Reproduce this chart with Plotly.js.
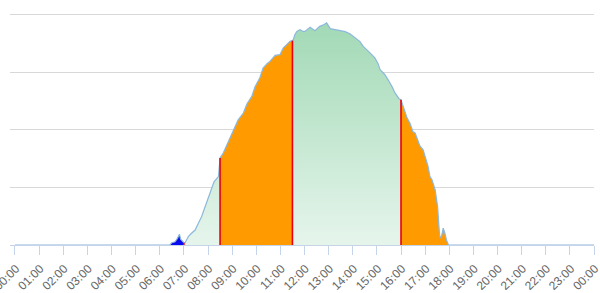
<!DOCTYPE html>
<html>
<head>
<meta charset="utf-8">
<script src="https://cdn.plot.ly/plotly-3.0.1.min.js"></script>
<style>html,body{margin:0;padding:0;background:#fff;}#chart{width:600px;height:293px;}</style>
</head>
<body>
<div id="chart"></div>
<script>
// Time of reading (HH:MM) and power value
const times = ["00:00","06:25","06:30","06:38","06:44","06:49","06:52","06:56","07:00",
  "07:03","07:11","07:19","07:28","07:36","07:44","07:53","08:05","08:15","08:26","08:28","08:30",
  "08:38","08:50","09:03","09:15","09:28","09:37","09:49","09:57","10:09","10:17","10:27","10:34","10:47","10:59","11:07","11:16","11:24","11:30",
  "11:32","11:36","11:41","11:49","11:56","12:01","12:14","12:26","12:38","12:49","12:55","13:04","13:16","13:28","13:41","13:53","14:10","14:18","14:26","14:35","14:43","14:55","15:03","15:08","15:20","15:28","15:33","15:39","15:45","15:55","16:00",
  "16:10","16:15","16:22","16:30","16:35","16:47","16:55","17:00","17:07","17:12","17:17","17:25","17:31","17:35","17:37","17:41","17:45","17:49","17:53","17:58","24:00"];
const power = [0,0,10,14,29,47,25,19,10,
  10,36,51,65,94,123,167,230,274,297,335,378,
  399,448,500,543,573,613,645,687,726,768,787,797,823,826,855,870,884,887,
  891,913,927,935,927,927,945,930,949,957,964,939,935,933,926,917,891,883,862,848,834,812,787,761,739,717,703,683,660,635,630,
  573,552,529,491,486,430,413,384,343,297,283,239,167,65,30,39,73,52,22,0,0];

// Tariff periods
const periodStarts = ["00:00","07:00","08:30","11:30","16:00","21:00","23:00"];
const periodTypes  = ["valley","flat","peak","flat","peak","flat","valley"];

const tickLabels = ["00:00","01:00","02:00","03:00","04:00","05:00","06:00","07:00","08:00","09:00","10:00","11:00","12:00",
  "13:00","14:00","15:00","16:00","17:00","18:00","19:00","20:00","21:00","22:00","23:00","00:00"];

const toH = s => { const p = s.split(":"); return +p[0] + (+p[1]) / 60; };
const hrs = times.map(toH);
function interp(h) {
  for (let i = 0; i < hrs.length - 1; i++) {
    if (h >= hrs[i] && h <= hrs[i + 1]) {
      const t = hrs[i + 1] === hrs[i] ? 0 : (h - hrs[i]) / (hrs[i + 1] - hrs[i]);
      return power[i] + t * (power[i + 1] - power[i]);
    }
  }
  return 0;
}

const traces = [];
const starts = periodStarts.map(toH);
const ends = starts.slice(1).concat([24]);
starts.forEach((s, k) => {
  const e = ends[k];
  const xs = [s], ys = [interp(s)];
  hrs.forEach((h, i) => { if (h > s && h < e) { xs.push(h); ys.push(power[i]); } });
  xs.push(e); ys.push(interp(e));
  const type = periodTypes[k];
  const tr = { x: xs, y: ys, type: "scatter", mode: "lines", line: { width: 0 }, fill: "tozeroy", hoverinfo: "skip", showlegend: false };
  if (type === "valley") tr.fillcolor = "#0a0af0";
  else if (type === "peak") tr.fillcolor = "#ff9a00";
  else { tr.fillcolor = "#bfe5cc"; tr.fillgradient = { type: "vertical", start: 0, stop: 1000, colorscale: [[0, "#e6f5ec"], [1, "#9fd8b3"]] }; }
  traces.push(tr);
});

// curve line
traces.push({ x: hrs, y: power, type: "scatter", mode: "lines", line: { color: "#8cb8dc", width: 1.2 }, hoverinfo: "skip", showlegend: false });

// red boundary lines
const rx = [], ry = [];
starts.slice(1).forEach(b => { const v = interp(b); if (v > 0) { rx.push(b, b, null); ry.push(0, v, null); } });
traces.push({ x: rx, y: ry, type: "scatter", mode: "lines", line: { color: "#e8000c", width: 1.6 }, hoverinfo: "skip", showlegend: false });

const layout = {
  width: 600, height: 293,
  margin: { l: 10, r: 6, t: 10, b: 48 },
  paper_bgcolor: "#ffffff", plot_bgcolor: "#ffffff",
  xaxis: {
    type: "linear", range: [-0.207, 24], automargin: false,
    tickvals: tickLabels.map((_, i) => i), ticktext: tickLabels,
    tickangle: -45, tickfont: { family: "Liberation Sans, Arial, sans-serif", size: 12, color: "#666666" },
    ticklabeloverflow: "allow", ticklabelshift: 1, ticklabelstandoff: 2,
    showgrid: false, zeroline: false,
    showline: true, linecolor: "#c6d4ea", linewidth: 1,
    ticks: "outside", ticklen: 9, tickcolor: "#c6d4ea", tickwidth: 1
  },
  yaxis: {
    range: [0, 1020], tickvals: [0, 250, 500, 750, 1000], automargin: false,
    showticklabels: false, showgrid: true, gridcolor: "#d8d8d8", gridwidth: 1.3,
    zeroline: false, showline: false, ticks: ""
  }
};
Plotly.newPlot("chart", traces, layout, { staticPlot: true, displayModeBar: false });
</script>
</body>
</html>
